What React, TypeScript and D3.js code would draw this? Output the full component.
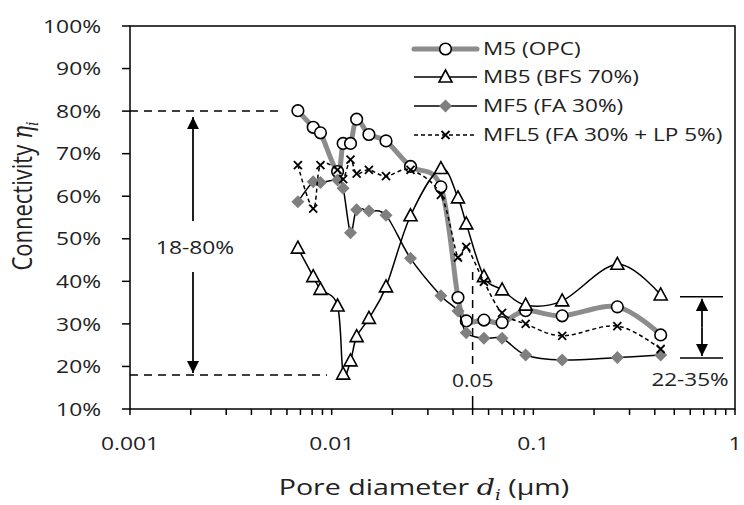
import React, { useEffect, useRef } from 'react'
import * as d3 from 'd3'

// pore diameters (µm) shared by all four mixes
const diameters = [0.0068, 0.0081, 0.0088, 0.0107, 0.0114, 0.0124, 0.0133, 0.0153, 0.0186, 0.0246,
    0.0348, 0.0423, 0.0465, 0.0569, 0.07, 0.0916, 0.139, 0.261, 0.428]

// connectivity in %
const m5 = [80.1, 76.2, 74.9, 65.8, 72.4, 72.4, 78.1, 74.5, 73.0, 67.0, 62.2, 36.2, 30.7, 30.9, 30.3, 33.1, 31.9, 34.0, 27.4]
const mb5 = [47.8, 41.1, 38.1, 34.2, 18.2, 21.3, 27.0, 31.3, 38.7, 55.4, 66.5, 59.6, 53.5, 41.1, 38.0, 34.4, 35.4, 44.0, 36.8]
const mf5 = [58.7, 63.4, 63.2, 63.8, 61.9, 51.4, 56.8, 56.5, 55.5, 45.4, 36.6, 33.0, 27.9, 26.6, 26.6, 22.7, 21.5, 22.1, 22.7]
const mfl5 = [67.3, 57.1, 67.3, 66.2, 64.0, 68.6, 65.3, 66.2, 64.7, 66.2, 60.3, 45.6, 48.1, 39.9, 32.6, 30.0, 27.2, 29.5, 24.1]

const seriesNames = ['M5 (OPC)', 'MB5 (BFS 70%)', 'MF5 (FA 30%)', 'MFL5 (FA 30% + LP 5%)']
const yTicks = [10, 20, 30, 40, 50, 60, 70, 80, 90, 100]
const xTicks = [0.001, 0.01, 0.1, 1]
const rangeLow = [18, 80]
const rangeHigh = [22, 36.4]
const markLine = 0.05

const FONT = "'Open Sans', sans-serif"
const SERIF = "'DejaVu Serif', serif"

// text is a bit wider in the original, so stretch it horizontally
function stext(parent: any, x: number, y: number, anchor: string, size: number, sx: number, str: string) {
    const t = parent.append('g').attr('transform', `translate(${x},${y}) scale(${sx},1)`)
        .append('text').attr('text-anchor', anchor).attr('dy', '0.35em')
        .style('font-family', FONT).style('font-size', size + 'px').attr('fill', '#222')
    if (str) t.text(str)
    return t
}

function App() {
    const node = useRef<SVGSVGElement | null>(null)

    useEffect(() => {
        const svg = d3.select(node.current)
        svg.selectAll('*').remove()

        const left = 130, right = 735, top = 26, bottom = 409
        const x = d3.scaleLog().domain([0.001, 1]).range([left, right])
        const y = d3.scaleLinear().domain([10, 100]).range([bottom, top])
        const g = svg.append('g')

        // frame
        g.append('rect').attr('x', left).attr('y', top).attr('width', right - left).attr('height', bottom - top)
            .attr('fill', 'none').attr('stroke', '#000').attr('stroke-width', 1.5)

        // y ticks + labels
        yTicks.forEach(t => {
            g.append('line').attr('x1', left - 8).attr('x2', left).attr('y1', y(t)).attr('y2', y(t))
                .attr('stroke', '#000').attr('stroke-width', 1.5)
            stext(g, 101, y(t), 'end', 19, 1.2, t + '%')
        })

        // x ticks (log minor ticks too)
        const minor: number[] = []
        for (let e = -3; e < 0; e++) for (let k = 1; k < 10; k++) minor.push(k * Math.pow(10, e))
        minor.push(1)
        minor.forEach(t => {
            g.append('line').attr('x1', x(t)).attr('x2', x(t)).attr('y1', bottom).attr('y2', bottom + 6)
                .attr('stroke', '#000').attr('stroke-width', 1.5)
        })
        xTicks.forEach(t => stext(g, x(t), 443, 'middle', 19, 1.2, String(t)))

        // axis titles
        const xt = stext(g, 424, 487, 'middle', 22, 1.3, '')
        xt.append('tspan').text('Pore diameter ')
        xt.append('tspan').style('font-family', SERIF).style('font-style', 'italic').text('d')
        xt.append('tspan').style('font-family', SERIF).style('font-style', 'italic')
            .style('font-size', '14px').attr('dy', 5).text('i')
        xt.append('tspan').attr('dy', -5).text(' (µm)')

        const yt = g.append('text').attr('transform', 'translate(32,196) scale(1.25,1) rotate(-90)').attr('text-anchor', 'middle')
            .style('font-family', FONT).style('font-size', '22px').attr('fill', '#222')
        yt.append('tspan').text('Connectivity ')
        yt.append('tspan').style('font-family', SERIF).style('font-style', 'italic').text('η')
        yt.append('tspan').style('font-family', SERIF).style('font-style', 'italic')
            .style('font-size', '14px').attr('dy', 5).text('i')

        // annotations
        const dash = '8,6'
        g.append('line').attr('x1', left).attr('x2', 280).attr('y1', y(rangeLow[1])).attr('y2', y(rangeLow[1]))
            .attr('stroke', '#000').attr('stroke-width', 1.5).attr('stroke-dasharray', dash)
        g.append('line').attr('x1', left).attr('x2', 327).attr('y1', y(rangeLow[0])).attr('y2', y(rangeLow[0]))
            .attr('stroke', '#000').attr('stroke-width', 1.5).attr('stroke-dasharray', dash)

        const defs = svg.append('defs')
        defs.append('marker').attr('id', 'ah').attr('viewBox', '0 0 10 10').attr('refX', 10).attr('refY', 5)
            .attr('markerWidth', 7).attr('markerHeight', 7).attr('markerUnits', 'strokeWidth').attr('orient', 'auto')
            .append('path').attr('d', 'M0,0 L10,5 L0,10 Z').attr('fill', '#000')

        const ax = 193
        g.append('line').attr('x1', ax).attr('x2', ax).attr('y1', 221).attr('y2', y(rangeLow[1]) + 6)
            .attr('stroke', '#000').attr('stroke-width', 1.75).attr('marker-end', 'url(#ah)')
        g.append('line').attr('x1', ax).attr('x2', ax).attr('y1', 272).attr('y2', y(rangeLow[0]) - 2)
            .attr('stroke', '#000').attr('stroke-width', 1.75).attr('marker-end', 'url(#ah)')
        stext(g, 195, 247, 'middle', 19, 1.2, '18-80%')

        // 0.05 line
        g.append('line').attr('x1', x(markLine)).attr('x2', x(markLine)).attr('y1', 272).attr('y2', 370)
            .attr('stroke', '#000').attr('stroke-width', 1.5).attr('stroke-dasharray', dash)
        g.append('line').attr('x1', x(markLine)).attr('x2', x(markLine)).attr('y1', 396).attr('y2', bottom)
            .attr('stroke', '#000').attr('stroke-width', 1.5)
        stext(g, x(markLine), 381, 'middle', 17.5, 1.2, '0.05')

        // right range
        ;[rangeHigh[0], rangeHigh[1]].forEach(v => {
            g.append('line').attr('x1', 680).attr('x2', 723).attr('y1', y(v)).attr('y2', y(v))
                .attr('stroke', '#000').attr('stroke-width', 1.5)
        })
        const rx = 702, ry = (y(rangeHigh[0]) + y(rangeHigh[1])) / 2
        g.append('line').attr('x1', rx).attr('x2', rx).attr('y1', ry).attr('y2', y(rangeHigh[1]) + 2)
            .attr('stroke', '#000').attr('stroke-width', 1.75).attr('marker-end', 'url(#ah)')
        g.append('line').attr('x1', rx).attr('x2', rx).attr('y1', ry).attr('y2', y(rangeHigh[0]) - 2)
            .attr('stroke', '#000').attr('stroke-width', 1.75).attr('marker-end', 'url(#ah)')
        stext(g, 690, 380, 'middle', 18, 1.25, '22-35%')

        // series
        const line = d3.line<[number, number]>().x(d => x(d[0])).y(d => y(d[1])).curve(d3.curveCatmullRom.alpha(0))
        const pts = (vals: number[]) => vals.map((v, i) => [diameters[i], v] as [number, number])

        const drawCircle = (s: any, cx: number, cy: number) => s.append('circle').attr('cx', cx).attr('cy', cy).attr('r', 5.8)
            .attr('fill', '#fff').attr('stroke', '#000').attr('stroke-width', 1.6)
        const drawTri = (s: any, cx: number, cy: number) => s.append('path')
            .attr('d', `M${cx},${cy - 7} L${cx + 6.5},${cy + 5} L${cx - 6.5},${cy + 5} Z`)
            .attr('fill', '#fff').attr('stroke', '#000').attr('stroke-width', 1.6)
        const drawDia = (s: any, cx: number, cy: number) => s.append('path')
            .attr('d', `M${cx},${cy - 6.5} L${cx + 6.5},${cy} L${cx},${cy + 6.5} L${cx - 6.5},${cy} Z`)
            .attr('fill', '#7f7f7f')
        const drawX = (s: any, cx: number, cy: number) => s.append('path')
            .attr('d', `M${cx - 4},${cy - 4} L${cx + 4},${cy + 4} M${cx - 4},${cy + 4} L${cx + 4},${cy - 4}`)
            .attr('stroke', '#000').attr('stroke-width', 1.8)

        const styles = [
            { vals: m5, stroke: '#8c8c8c', width: 5, dashArr: null, mark: drawCircle },
            { vals: mb5, stroke: '#000', width: 1.5, dashArr: null, mark: drawTri },
            { vals: mf5, stroke: '#000', width: 1.5, dashArr: null, mark: drawDia },
            { vals: mfl5, stroke: '#000', width: 1.5, dashArr: '4,3', mark: drawX }
        ]

        styles.forEach(st => {
            const sg = g.append('g')
            sg.append('path').attr('d', line(pts(st.vals))).attr('fill', 'none').attr('stroke', st.stroke)
                .attr('stroke-width', st.width).attr('stroke-dasharray', st.dashArr)
            pts(st.vals).forEach(p => st.mark(sg, x(p[0]), y(p[1])))
        })

        // legend
        const legendY = [49, 77, 106, 135]
        styles.forEach((st, i) => {
            const lg = g.append('g')
            lg.append('line').attr('x1', 414).attr('x2', 477).attr('y1', legendY[i]).attr('y2', legendY[i])
                .attr('stroke', st.stroke).attr('stroke-width', st.width).attr('stroke-dasharray', st.dashArr)
                .attr('stroke-linecap', i === 0 ? 'round' : 'butt')
            st.mark(lg, 445.5, legendY[i])
            stext(lg, 483, legendY[i], 'start', 18.5, 1.22, seriesNames[i])
        })
    }, [])

    return (
        <svg ref={node} width={744} height={505}
            style={{ position: 'absolute', left: 0, top: 0, background: '#fff' }} />
    )
}

export default App
